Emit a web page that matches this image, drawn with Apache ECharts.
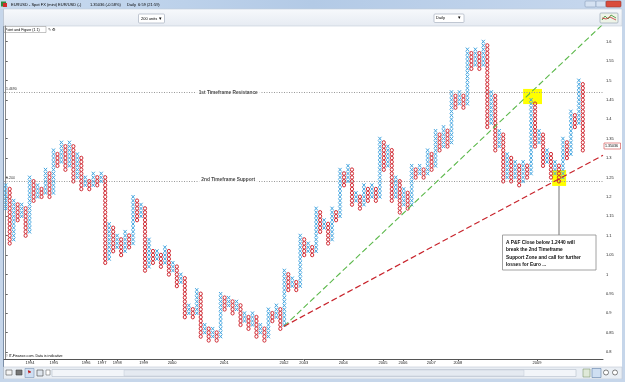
<!DOCTYPE html>
<html><head><meta charset="utf-8">
<script src="https://cdn.jsdelivr.net/npm/echarts@6/dist/echarts.min.js"></script>
<style>html,body{margin:0;padding:0;background:#fff}#c{width:625px;height:382px}</style>
</head><body><div id="c"></div>
<script>
// ---- Point & Figure columns (box centres), EUR/USD, box size 0.01 ----
const colLow = [
 1.17,1.08,1.09,1.14,1.15,1.10,1.11,1.19,1.20,1.20, 1.21,1.20,1.21,1.28,1.29,1.27,1.28,1.24,1.25,1.22,
 1.23,1.22,1.23,1.23,1.24,1.03,1.04,1.06,1.07,1.05, 1.06,1.07,1.08,1.14,1.15,1.01,1.02,1.03,1.04,1.02,
 1.03,1.00,1.01,0.97,0.98,0.89,0.90,0.89,0.90,0.84, 0.85,0.83,0.84,0.83,0.84,0.91,0.92,0.90,0.91,0.87,
 0.88,0.86,0.87,0.84,0.85,0.83,0.84,0.88,0.89,0.86, 0.87,0.96,0.97,0.96,0.97,1.05,1.06,1.05,1.06,1.11,
 1.12,1.08,1.09,1.14,1.15,1.23,1.24,1.18,1.19,1.17, 1.18,1.19,1.20,1.19,1.20,1.27,1.28,1.19,1.20,1.16,
 1.18,1.17,1.18,1.25,1.26,1.25,1.26,1.27,1.28,1.32, 1.33,1.33,1.34,1.43,1.44,1.43,1.44,1.53,1.54,1.53,
 1.54,1.38,1.39,1.32,1.33,1.24,1.25,1.24,1.25,1.23, 1.24,1.25,1.26,1.33,1.34,1.28,1.29,1.25,1.26,1.24,
 1.25,1.30,1.31,1.38,1.39,1.32
];
const colHigh = [
 1.23,1.22,1.19,1.18,1.18,1.17,1.25,1.24,1.23,1.22, 1.27,1.26,1.32,1.31,1.34,1.33,1.34,1.33,1.31,1.30,
 1.25,1.24,1.26,1.25,1.26,1.25,1.13,1.12,1.10,1.09, 1.11,1.10,1.20,1.19,1.18,1.17,1.09,1.06,1.06,1.05,
 1.07,1.06,1.03,1.02,1.00,0.99,0.92,0.91,0.96,0.95, 0.87,0.86,0.86,0.85,0.95,0.94,0.94,0.93,0.93,0.92,
 0.90,0.89,0.90,0.89,0.87,0.86,0.91,0.90,0.92,0.91, 1.01,1.00,0.99,0.98,1.10,1.09,1.08,1.07,1.17,1.16,
 1.14,1.13,1.17,1.16,1.27,1.26,1.28,1.27,1.21,1.20, 1.23,1.22,1.23,1.22,1.35,1.34,1.33,1.32,1.25,1.24,
 1.22,1.21,1.28,1.27,1.28,1.27,1.32,1.31,1.37,1.36, 1.38,1.37,1.47,1.46,1.47,1.46,1.58,1.57,1.58,1.57,
 1.60,1.59,1.47,1.46,1.37,1.36,1.31,1.30,1.29,1.28, 1.29,1.28,1.45,1.44,1.37,1.36,1.32,1.31,1.29,1.28,
 1.35,1.34,1.42,1.41,1.50,1.49
];
const firstColumn = 'X';
const boxSize = 0.01;

const yTicks = [0.8,0.85,0.9,0.95,1,1.05,1.1,1.15,1.2,1.25,1.3,1.35,1.4,1.45,1.5,1.55,1.6];
const yearLabels = ['1994','1995','1996','1997','1998','1999','2000','2001','2002','2003','2004','2005','2006','2007','2008','2009'];
const yearCols   = [6.1,12.1,20.2,24.2,28.0,34.7,41.8,54.9,69.9,74.9,84.8,94.8,99.8,106.9,113.6,133.5];

const resistanceLevel = 1.469, resistanceTag = '1.4690', resistanceText = '1st Timeframe Resistance';
const supportLevel = 1.244, supportTag = '1.244', supportText = '2nd Timeframe Support';
const trendStart = [69.9, 0.866];
const greenTrendEnd = [150.07, 1.645];
const redTrendEnd = [150.07, 1.307];
const highlight1 = [[130.0, 1.478], [134.75, 1.439]];
const highlight2 = [[137.3, 1.269], [140.8, 1.228]];
const lastPrice = '1.35036';
const calloutLines = ['A P&F Close below 1.2440 will','break the 2nd Timeframe','Support Zone and call for further','losses for Euro ...'];

const BLUE = '#45a6e0', RED = '#d02a33';
const pnfData = colLow.map((lo, i) => [i, lo, colHigh[i], ((i % 2 === 0) === (firstColumn === 'X')) ? 1 : 0]);

const chart = echarts.init(document.getElementById('c'), null, {renderer: 'canvas'});
const tiny = {fontFamily: 'Liberation Sans', fontSize: 4, color: '#222'};

const option = {
  animation: false,
  backgroundColor: '#fff',
  grid: {left: 4, right: 22, top: 26, bottom: 23},
  xAxis: {
    type: 'value', min: -0.43, max: 150.07,
    axisLine: {show: true, lineStyle: {color: '#555', width: 1}},
    splitLine: {show: false},
    axisTick: {show: true, customValues: yearCols, length: 2, lineStyle: {color: '#555'}},
    axisLabel: {customValues: yearCols, margin: 2, fontSize: 4, fontFamily: 'Liberation Sans', color: '#222',
      formatter: v => { const i = yearCols.findIndex(c => Math.abs(c - v) < 1e-6); return i >= 0 ? yearLabels[i] : ''; }}
  },
  yAxis: {
    type: 'value', position: 'right', min: 0.782, max: 1.6402,
    axisLine: {show: true, lineStyle: {color: '#888', width: 1}},
    splitLine: {show: false},
    axisTick: {show: true, customValues: yTicks, length: 2, lineStyle: {color: '#666'}},
    axisLabel: {customValues: yTicks, margin: 3, fontSize: 4, fontFamily: 'Liberation Sans', color: '#222',
      formatter: v => String(Math.round(v * 100) / 100)}
  },
  series: [
    {
      type: 'custom', name: 'P&F', z: 3, clip: true,
      data: pnfData,
      encode: {x: 0, y: [1, 2]},
      renderItem(params, api) {
        const k = api.value(0), lo = api.value(1), hi = api.value(2), isX = api.value(3) === 1;
        const base = api.coord([k, lo]);
        const boxPx = api.size([0, boxSize])[1];
        const colW = api.size([1, 0])[0];
        const n = Math.round((hi - lo) / boxSize) + 1;
        const hw = colW * 0.4, hh = boxPx * 0.46;
        let d = '';
        for (let i = 0; i < n; i++) {
          const x = base[0], y = base[1] - i * boxPx;
          if (isX) d += `M${x-hw} ${y+hh}L${x+hw} ${y-hh}M${x-hw} ${y-hh}L${x+hw} ${y+hh}`;
          else d += `M${x+hw} ${y}A${hw} ${hh} 0 1 0 ${x-hw} ${y}A${hw} ${hh} 0 1 0 ${x+hw} ${y}Z`;
        }
        return {type: 'path', shape: {pathData: d}, style: {stroke: isX ? BLUE : RED, fill: null, lineWidth: 1}};
      }
    },
    {
      type: 'line', name: 'green trend', z: 4, symbol: 'none', clip: true,
      data: [trendStart, greenTrendEnd],
      lineStyle: {color: '#5bb84a', width: 1.1, type: [6, 3]},
      markArea: {
        silent: true,
        itemStyle: {color: '#ffff00', opacity: 1},
        data: [
          [{coord: highlight1[0]}, {coord: highlight1[1]}],
          [{coord: highlight2[0]}, {coord: highlight2[1]}]
        ]
      },
      markLine: {
        silent: true, symbol: 'none', z: 1,
        lineStyle: {color: '#999', type: [1, 1.5], width: 1},
        label: {position: 'insideStartTop', distance: [2, 1], fontSize: 3.5, color: '#333', fontFamily: 'Liberation Sans'},
        data: [
          {yAxis: resistanceLevel, label: {formatter: resistanceTag}},
          {yAxis: supportLevel, label: {formatter: supportTag}}
        ]
      }
    },
    {
      type: 'line', name: 'red trend', z: 4, symbol: 'none', clip: true,
      data: [trendStart, redTrendEnd],
      lineStyle: {color: '#c8242c', width: 1.2, type: [6, 3]}
    },
    {
      type: 'scatter', name: 'notes', z: 5, symbolSize: 1,
      itemStyle: {color: 'rgba(0,0,0,0)'},
      data: [
        {value: [55.9, resistanceLevel], name: resistanceText},
        {value: [55.9, supportLevel], name: supportText}
      ],
      label: {show: true, position: 'inside', formatter: p => p.name, fontSize: 4.8, fontWeight: 'bold',
        fontFamily: 'Liberation Sans', color: '#111', backgroundColor: '#fff', padding: [1, 3]}
    }
  ],
  graphic: [
    // window frame
    {type: 'rect', shape: {x: 0, y: 0, width: 3.5, height: 382}, style: {fill: '#c6d6ea'}, silent: true},
    {type: 'rect', shape: {x: 622, y: 0, width: 3, height: 382}, style: {fill: '#c6d6ea'}, silent: true},
    {type: 'line', shape: {x1: 3.5, y1: 9, x2: 3.5, y2: 380}, style: {stroke: '#7d90a8', lineWidth: 1}, silent: true},
    // title bar
    {type: 'rect', shape: {x: 0, y: 0, width: 625, height: 9}, silent: true,
      style: {fill: new echarts.graphic.LinearGradient(0, 0, 1, 0, [{offset: 0, color: '#c9dbf0'}, {offset: 0.5, color: '#b3cae6'}, {offset: 1, color: '#c7d8ee'}])}},
    {type: 'rect', shape: {x: 1, y: 1.5, width: 5, height: 5}, style: {fill: '#2e8b3e'}, silent: true},
    {type: 'rect', shape: {x: 3, y: 3, width: 4, height: 4}, style: {fill: '#d22c2c'}, silent: true},
    {type: 'text', x: 11, y: 4.8, silent: true, style: Object.assign({}, tiny, {text: 'EURUSD - Spot FX (mini) EUR/USD (-)', verticalAlign: 'middle'})},
    {type: 'text', x: 90, y: 4.8, silent: true, style: Object.assign({}, tiny, {text: '1.35036 (-0.58%)', verticalAlign: 'middle'})},
    {type: 'text', x: 127, y: 4.8, silent: true, style: Object.assign({}, tiny, {text: 'Daily  6:59 (21:59)', verticalAlign: 'middle'})},
    {type: 'rect', shape: {x: 585, y: 1, width: 11, height: 6, r: 1}, style: {fill: '#d5e2f2', stroke: '#8aa0bb', lineWidth: 0.6}, silent: true},
    {type: 'rect', shape: {x: 596, y: 1, width: 10, height: 6, r: 1}, style: {fill: '#d5e2f2', stroke: '#8aa0bb', lineWidth: 0.6}, silent: true},
    {type: 'rect', shape: {x: 606, y: 1, width: 15, height: 6, r: 1}, style: {fill: '#d94c3c', stroke: '#9a3a30', lineWidth: 0.6}, silent: true},
    // toolbar
    {type: 'rect', shape: {x: 3.5, y: 9, width: 618.5, height: 17}, silent: true,
      style: {fill: new echarts.graphic.LinearGradient(0, 0, 0, 1, [{offset: 0, color: '#f7f9fc'}, {offset: 1, color: '#e6ebf2'}]), stroke: '#c4ccd8', lineWidth: 0.6}},
    {type: 'rect', shape: {x: 138.5, y: 14, width: 26, height: 9, r: 1}, style: {fill: '#fff', stroke: '#a9b2c0', lineWidth: 0.7}, silent: true},
    {type: 'text', x: 141, y: 18.5, silent: true, style: Object.assign({}, tiny, {text: '200 units', verticalAlign: 'middle'})},
    {type: 'text', x: 158.5, y: 18.5, silent: true, style: Object.assign({}, tiny, {text: '▾', fontSize: 4.5, verticalAlign: 'middle'})},
    {type: 'rect', shape: {x: 434, y: 14, width: 30, height: 8.5, r: 1}, style: {fill: '#fff', stroke: '#a9b2c0', lineWidth: 0.7}, silent: true},
    {type: 'text', x: 436, y: 18.2, silent: true, style: Object.assign({}, tiny, {text: 'Daily', verticalAlign: 'middle'})},
    {type: 'text', x: 458, y: 18.2, silent: true, style: Object.assign({}, tiny, {text: '▾', fontSize: 4.5, verticalAlign: 'middle'})},
    {type: 'rect', shape: {x: 600, y: 13, width: 18, height: 10, r: 1}, style: {fill: '#eef4e8', stroke: '#9aa6b4', lineWidth: 0.7}, silent: true},
    {type: 'polyline', shape: {points: [[602, 20], [605, 16], [608, 19], [611, 15], [616, 18]]}, style: {stroke: '#3a8a2a', lineWidth: 0.8, fill: null}, silent: true},
    {type: 'polyline', shape: {points: [[602, 18], [606, 19], [610, 17], [616, 20]]}, style: {stroke: '#c03030', lineWidth: 0.8, fill: null}, silent: true},
    // chart caption
    {type: 'rect', shape: {x: 4, y: 26.5, width: 42, height: 6}, style: {fill: '#fff', stroke: '#888', lineWidth: 0.5}, silent: true},
    {type: 'text', x: 5, y: 29.6, silent: true, style: Object.assign({}, tiny, {text: 'Point and Figure (1 1)', fontSize: 3.6, verticalAlign: 'middle'})},
    {type: 'text', x: 48, y: 29.6, silent: true, style: Object.assign({}, tiny, {text: '✎ ⚙', fontSize: 4, verticalAlign: 'middle'})},
    // copyright
    {type: 'text', x: 5, y: 356, silent: true, style: Object.assign({}, tiny, {text: '© IT-Finance.com. Data is indicative', fontSize: 3.6, verticalAlign: 'middle'})},
    // price tag
    {type: 'rect', shape: {x: 604, y: 143, width: 16.5, height: 6}, style: {fill: '#fff', stroke: '#d04040', lineWidth: 0.6}, silent: true},
    {type: 'text', x: 605, y: 146.2, silent: true, style: Object.assign({}, tiny, {text: lastPrice, color: '#d02020', fontSize: 3.6, verticalAlign: 'middle'})},
    // callout
    {type: 'line', shape: {x1: 559, y1: 186, x2: 559, y2: 235}, style: {stroke: '#a8a8a8', lineWidth: 1.6}, silent: true},
    {type: 'rect', shape: {x: 502.5, y: 235, width: 93.5, height: 35}, style: {fill: '#fff', stroke: '#8c8c8c', lineWidth: 0.8}, silent: true},
    ...calloutLines.map((t, i) => ({type: 'text', x: 506, y: 242.8 + i * 7.2, silent: true,
      style: {text: t, fontFamily: 'Liberation Sans', fontWeight: 'bold', fontSize: 4.8, fill: '#111', verticalAlign: 'middle'}})),
    // bottom toolbar
    {type: 'rect', shape: {x: 3.5, y: 367, width: 618.5, height: 12}, style: {fill: '#e9eef4', stroke: '#c0c8d4', lineWidth: 0.6}, silent: true},
    {type: 'rect', shape: {x: 0, y: 379, width: 625, height: 3}, style: {fill: '#c6d6ea'}, silent: true},
    {type: 'rect', shape: {x: 6, y: 370, width: 6, height: 5}, style: {fill: '#f4f4f4', stroke: '#555', lineWidth: 0.6}, silent: true},
    {type: 'rect', shape: {x: 16, y: 370, width: 6, height: 5}, style: {fill: '#777', stroke: '#444', lineWidth: 0.6}, silent: true},
    {type: 'rect', shape: {x: 25, y: 368.5, width: 9, height: 9}, style: {fill: '#cfdff2', stroke: '#7c95b5', lineWidth: 0.6}, silent: true},
    {type: 'text', x: 27, y: 373, silent: true, style: {text: '⚑', fontSize: 5, fill: '#c02020', verticalAlign: 'middle'}},
    {type: 'rect', shape: {x: 37, y: 370, width: 6, height: 6}, style: {fill: '#dfe6ee', stroke: '#444', lineWidth: 0.6}, silent: true},
    {type: 'rect', shape: {x: 46, y: 370, width: 4, height: 5}, style: {fill: '#fff', stroke: '#555', lineWidth: 0.5}, silent: true},
    {type: 'rect', shape: {x: 52, y: 369.5, width: 524, height: 7}, style: {fill: '#f2f5f9', stroke: '#aab4c2', lineWidth: 0.5}, silent: true},
    {type: 'rect', shape: {x: 124, y: 370, width: 400, height: 6}, style: {fill: '#e5eaf1', stroke: '#b8c2d0', lineWidth: 0.4}, silent: true},
    {type: 'rect', shape: {x: 583, y: 369, width: 7, height: 8}, style: {fill: '#dfe9d8', stroke: '#6c8b5c', lineWidth: 0.5}, silent: true},
    {type: 'rect', shape: {x: 592, y: 368.5, width: 9, height: 9}, style: {fill: '#cfdff2', stroke: '#5f7fa8', lineWidth: 0.6}, silent: true},
    {type: 'circle', shape: {cx: 606, cy: 372.5, r: 2.5}, style: {fill: '#fff', stroke: '#333', lineWidth: 0.6}, silent: true},
    {type: 'circle', shape: {cx: 615, cy: 372.5, r: 2.5}, style: {fill: '#fff', stroke: '#333', lineWidth: 0.6}, silent: true}
  ]
};
chart.setOption(option);
</script>
</body></html>
